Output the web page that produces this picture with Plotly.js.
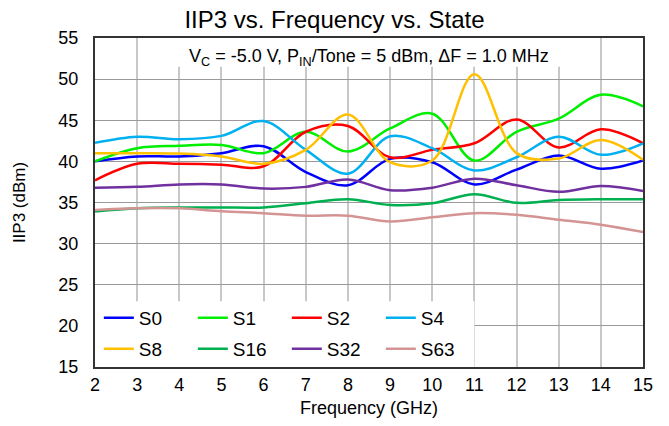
<!DOCTYPE html>
<html>
<head>
<meta charset="utf-8">
<script src="https://cdn.plot.ly/plotly-3.0.1.min.js"></script>
<style>html,body{margin:0;padding:0;background:#fff;}#chart{width:669px;height:426px;}</style>
</head>
<body>
<div id="chart"></div>
<script>
var freq = [2, 3, 4, 5, 6, 7, 8, 9, 10, 11, 12, 13, 14, 15];
var s0  = [40.0, 40.6, 40.6, 41.0, 41.85, 38.7, 37.1, 40.3, 39.9, 37.2, 39.0, 40.7, 39.1, 40.1];
var s1  = [40.0, 41.6, 41.9, 42.0, 41.0, 43.6, 41.2, 44.0, 45.8, 40.1, 43.6, 45.2, 48.1, 46.7];
var s2  = [37.7, 39.7, 39.7, 39.6, 39.4, 43.6, 44.3, 40.5, 41.4, 42.2, 45.1, 41.7, 43.9, 42.2];
var s4  = [42.25, 43.0, 42.7, 43.1, 44.9, 41.4, 38.5, 43.06, 41.6, 38.9, 40.5, 43.0, 40.8, 42.2];
var s8  = [41.0, 41.0, 40.95, 40.6, 39.7, 41.4, 45.7, 39.9, 40.1, 50.6, 41.0, 40.35, 42.6, 40.2];
var s16 = [33.9, 34.3, 34.4, 34.4, 34.4, 34.9, 35.4, 34.7, 34.9, 36.0, 34.96, 35.3, 35.4, 35.4];
var s32 = [36.8, 36.9, 37.2, 37.2, 36.7, 36.9, 37.8, 36.5, 36.8, 37.9, 37.1, 36.3, 37.0, 36.4];
var s63 = [34.1, 34.3, 34.3, 33.95, 33.7, 33.4, 33.4, 32.7, 33.2, 33.7, 33.5, 32.9, 32.3, 31.4];

var seriesNames = ['S0', 'S1', 'S2', 'S4', 'S8', 'S16', 'S32', 'S63'];
var seriesVals = [s0, s1, s2, s4, s8, s16, s32, s63];
var colors = ['#0000ff', '#00ee00', '#ff0000', '#00b0f0', '#ffc000', '#00b050', '#7030a0', '#d49494'];
var xTicks = [2, 3, 4, 5, 6, 7, 8, 9, 10, 11, 12, 13, 14, 15];
var yTicks = [15, 20, 25, 30, 35, 40, 45, 50, 55];

var FONT = 'Liberation Sans, Arial, sans-serif';

var traces = seriesNames.map(function (n, i) {
  return {
    x: freq, y: seriesVals[i], name: n, type: 'scatter', mode: 'lines',
    line: {color: colors[i], width: 2.5, shape: 'spline', smoothing: 1},
    legend: i < 4 ? 'legend' : 'legend2',
    hoverinfo: 'x+y+name'
  };
});

var legendBase = {
  orientation: 'h', xref: 'paper', yref: 'paper', x: 0.007, xanchor: 'left',
  yanchor: 'middle', bgcolor: 'rgba(0,0,0,0)', borderwidth: 0,
  font: {family: FONT, size: 19, color: '#000'},
  entrywidth: 49, entrywidthmode: 'pixels', itemwidth: 30, traceorder: 'normal'
};

var layout = {
  width: 669, height: 426,
  margin: {l: 95, r: 26, t: 38, b: 59},
  paper_bgcolor: '#fff', plot_bgcolor: '#fff',
  font: {family: FONT, color: '#000'},
  title: {text: 'IIP3 vs. Frequency vs. State', font: {family: FONT, size: 24, color: '#000'},
          x: 0.5, xref: 'container', xanchor: 'center', y: 0.955, yref: 'container', yanchor: 'middle'},
  xaxis: {
    range: [2, 15], tickvals: xTicks, ticktext: xTicks.map(String),
    showgrid: true, gridcolor: '#c8c8c8', gridwidth: 2,
    showline: true, linecolor: '#333', linewidth: 2, mirror: true,
    ticks: '', zeroline: false,
    tickfont: {family: FONT, size: 18, color: '#000'},
    title: {text: 'Frequency (GHz)', font: {family: FONT, size: 18, color: '#000'}, standoff: 8}
  },
  yaxis: {
    range: [15, 55], tickvals: yTicks, ticktext: yTicks.map(String),
    showgrid: true, gridcolor: '#999', gridwidth: 1,
    showline: true, linecolor: '#333', linewidth: 2, mirror: true,
    ticks: '', zeroline: false, ticklabelstandoff: 11,
    tickfont: {family: FONT, size: 18, color: '#000'},
    title: {text: 'IIP3 (dBm)', font: {family: FONT, size: 17, color: '#000'}, standoff: 28}
  },
  legend: Object.assign({}, legendBase, {y: 0.149}),
  legend2: Object.assign({}, legendBase, {y: 0.0547}),
  shapes: [
    {type: 'rect', xref: 'x', yref: 'y', x0: 2, x1: 11, y0: 15, y1: 23,
     fillcolor: '#fff', line: {width: 0}, layer: 'between'},
    {type: 'rect', xref: 'x', yref: 'y', x0: 3.5, x1: 13.5, y0: 51.5, y1: 55,
     fillcolor: '#fff', line: {width: 0}, layer: 'between'}
  ],
  annotations: [{
    text: 'V<sub>C</sub> = -5.0 V, P<sub>IN</sub>/Tone = 5 dBm, \u0394F = 1.0 MHz',
    xref: 'paper', yref: 'paper', x: 0.5, y: 0.942, xanchor: 'center', yanchor: 'middle',
    showarrow: false, font: {family: FONT, size: 18, color: '#000'}
  }]
};

Plotly.newPlot('chart', traces, layout, {displayModeBar: false, staticPlot: true});
</script>
</body>
</html>
